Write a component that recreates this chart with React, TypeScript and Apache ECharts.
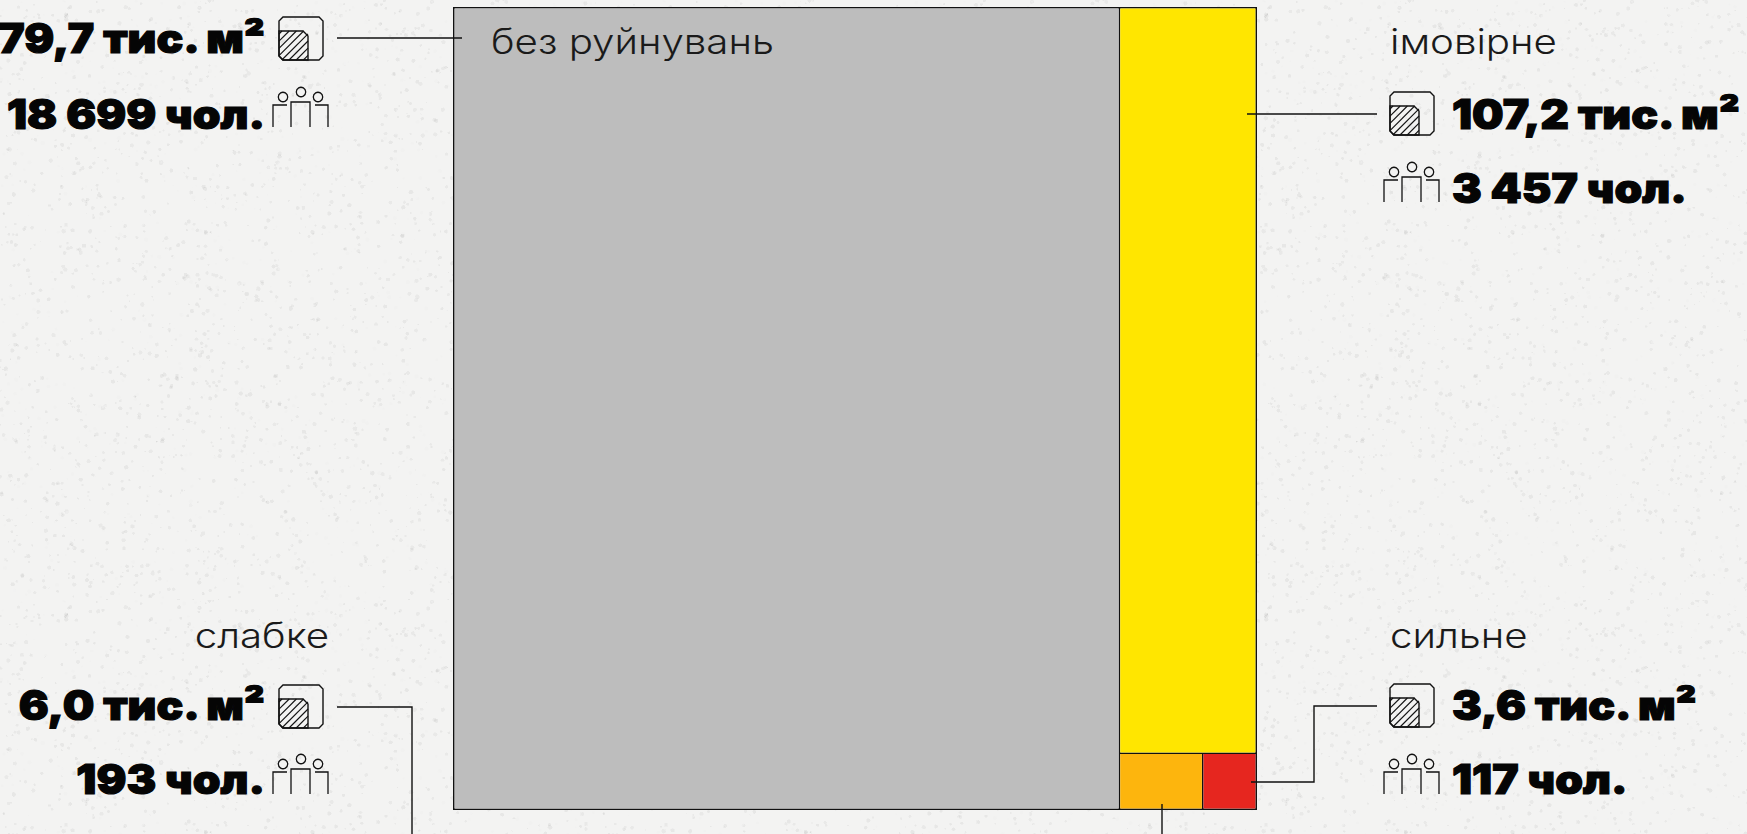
import React, { useEffect, useRef } from "react";
import * as echarts from "echarts";

const categories = ["без руйнувань", "імовірне", "слабке", "сильне"];
const areaLabels = ["579,7 тис. м²", "107,2 тис. м²", "6,0 тис. м²", "3,6 тис. м²"];
const peopleLabels = ["18 699 чол.", "3 457 чол.", "193 чол.", "117 чол."];
const areaValues = [579.7, 107.2, 6.0, 3.6];
const peopleValues = [18699, 3457, 193, 117];
const blockSizes = [579.7, 110.8, 5.06, 3.25];
const colors = ["#bdbdbd", "#ffe600", "#fdb50d", "#e6261f"];

const INK = "#111111";
const BOLD = "Inter";
const LIGHT = "Inter";

function line(points: number[][], lw = 1.4): any {
  return { type: "polyline", silent: true, z: 100, shape: { points }, style: { stroke: INK, lineWidth: lw, fill: "none" } };
}

function areaIcon(x: number, y: number): any {
  const c = 4;
  const w = 44;
  const h = 43;
  const children: any[] = [
    { type: "polygon", shape: { points: [[c, 0], [w - c, 0], [w, c], [w, h - c], [w - c, h], [c, h], [0, h - c], [0, c]] }, style: { stroke: INK, lineWidth: 1.4, fill: "none" } },
    { type: "polygon", shape: { points: [[0, 14], [24, 14], [29, 19], [29, h], [c, h], [0, h - c]] }, style: { stroke: INK, lineWidth: 1.4, fill: "none" } },
  ];
  const right = 29, top = 14, bottom = h;
  for (let a = -26; a < 29; a += 7.2) {
    const x0 = Math.max(0, a);
    const x1 = Math.min(right, a + (bottom - top));
    children.push({ type: "line", shape: { x1: x0, y1: bottom - (x0 - a), x2: x1, y2: bottom - (x1 - a) }, style: { stroke: INK, lineWidth: 1.1 } });
  }
  return { type: "group", x, y, silent: true, children };
}

function peopleIcon(x: number, y: number): any {
  const circle = (cx: number, cy: number) => ({ type: "circle", shape: { cx, cy, r: 4.7 }, style: { stroke: INK, lineWidth: 1.3, fill: "none" } });
  return {
    type: "group", x, y, silent: true,
    children: [
      circle(10, 10), circle(28, 5), circle(45, 10),
      line([[18, 40], [18, 15], [37, 15], [37, 40]], 1.3),
      line([[0, 40], [0, 18], [14, 18]], 1.3),
      line([[55, 40], [55, 18], [42, 18]], 1.3),
    ],
  };
}

function bold(text: string, x: number, y: number, align: string): any {
  return { type: "text", silent: true, x, y, scaleX: 1.085, style: { text, fill: "#050505", stroke: "#050505", lineWidth: 1.2, fontFamily: BOLD, fontWeight: 900, fontSize: 41, textAlign: align, textVerticalAlign: "middle" } };
}
function light(text: string, x: number, y: number, align: string): any {
  return { type: "text", silent: true, z: 100, x, y, scaleX: 1.15, style: { text, fill: "#1a1a1a", fontFamily: LIGHT, fontWeight: 300, fontSize: 35, textAlign: align, textVerticalAlign: "middle" } };
}

function paperTexture(): string {
  const cv = document.createElement("canvas");
  cv.width = 600;
  cv.height = 600;
  const g = cv.getContext("2d")!;
  g.fillStyle = "#f3f3f2";
  g.fillRect(0, 0, 600, 600);
  let s = 12345;
  const next = () => ((s = (s * 1103515245 + 12345) & 0x7fffffff) / 0x7fffffff);
  for (let i = 0; i < 30000; i++) {
    const dark = next() > 0.5;
    g.fillStyle = dark ? "rgba(170,170,165,0.02)" : "rgba(255,255,255,0.07)";
    const r = 0.6 + next() * 1.6;
    g.beginPath();
    g.arc(next() * 600, next() * 600, r, 0, Math.PI * 2);
    g.fill();
  }
  return cv.toDataURL("image/png");
}

export default function App() {
  const ref = useRef<HTMLDivElement>(null);
  useEffect(() => {
    if (!ref.current) return;
    ref.current.style.backgroundImage = `url(${paperTexture()})`;
    const chart = echarts.init(ref.current, undefined, { renderer: "svg" });
    chart.setOption({
      animation: false,
      backgroundColor: "transparent",
      tooltip: { show: false },
      series: [
        {
          type: "treemap",
          left: 453,
          top: 7,
          width: 804,
          height: 803,
          roam: false,
          nodeClick: false,
          breadcrumb: { show: false },
          squareRatio: 1,
          label: { show: false },
          upperLabel: { show: false },
          levels: [
            { itemStyle: { borderWidth: 1.6, gapWidth: 1.6, borderColor: INK } },
            { itemStyle: { borderWidth: 0, gapWidth: 0 } },
          ],
          data: categories.map((name, i) => ({
            name,
            value: [blockSizes[i], areaValues[i], peopleValues[i]],
            itemStyle: { color: colors[i] },
          })),
        },
      ],
      graphic: {
        elements: [
          line([[337, 38], [462, 38]]),
          line([[1247, 114], [1377, 114]]),
          line([[337, 707], [412, 707], [412, 834]]),
          line([[1377, 706], [1314, 706], [1314, 782], [1251, 782]]),
          line([[1162, 804], [1162, 834]]),

          bold(areaLabels[0], 265, 38, "right"),
          areaIcon(279, 17),
          bold(peopleLabels[0], 265, 114, "right"),
          peopleIcon(273, 87),

          light(categories[0], 491, 41, "left"),

          light(categories[1], 1390, 41, "left"),
          areaIcon(1390, 92),
          bold(areaLabels[1], 1452, 114, "left"),
          peopleIcon(1384, 162),
          bold(peopleLabels[1], 1452, 188, "left"),

          light(categories[2], 329, 635, "right"),
          bold(areaLabels[2], 265, 705, "right"),
          areaIcon(279, 685),
          bold(peopleLabels[2], 265, 779, "right"),
          peopleIcon(273, 754),

          light(categories[3], 1390, 635, "left"),
          areaIcon(1390, 684),
          bold(areaLabels[3], 1452, 705, "left"),
          peopleIcon(1384, 754),
          bold(peopleLabels[3], 1452, 779, "left"),
        ],
      },
    });
    return () => chart.dispose();
  }, []);
  return <div ref={ref} style={{ position: "absolute", left: 0, top: 0, width: 1747, height: 834, overflow: "hidden" }} />;
}
